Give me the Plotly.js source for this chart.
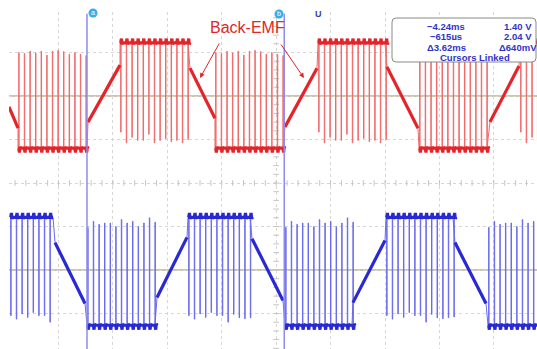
<!DOCTYPE html>
<html><head><meta charset="utf-8">
<script src="https://cdn.plot.ly/plotly-3.0.1.min.js"></script>
<style>html,body{margin:0;padding:0;background:#fff;overflow:hidden}#chart{width:537px;height:349px}</style>
</head><body><div id="chart"></div>
<script>
// Time in ms (1 ms / div), amplitude in divisions relative to each channel's ground marker
const redOffset = 2.0, blueOffset = -2.0;
const redHigh = 1.22, redLow = -1.20;
const blueHigh = 1.21, blueLow = -1.27;
const pwmPeriod = 0.103;

// Back-EMF ramps (floating phase)
const redRampStart = [-5.673, -4.221, -2.347, -0.601, 1.273, 3.166];
const redRampEnd   = [-5.507, -3.633, -1.888, -0.013, 1.843, 3.699];
const redRampFrom  = [-0.25, -0.60, 0.64, -0.71, 0.67, -0.60];
const redRampTo    = [-0.74, 0.71, -0.51, 0.64, -0.74, 0.69];
// PWM-driven intervals
const redPwmStart  = [-5.507, -3.633, -1.888, 0.006, 1.861, 3.717];
const redPwmEnd    = [-4.239, -2.383, -0.638, 1.237, 3.111, 4.050];
const redPwmState  = ['low', 'high', 'low', 'high', 'low', 'high'];
const redPwmPulses = [13, 13, 13, 13, 13, 4];
const redTipUp     = [1.00, 0.98, 1.03, 0.99, 1.03, 0.94, 1.03, 1.05, 1.02, 0.96, 1.00, 0.96, 0.93];
const redTipDown   = [-0.83, -1.08, -0.95, -1.02, -1.02, -0.88, -1.08, -1.02, -0.98, -1.05, -1.02, -1.08, -1.00];

const blueRampStart = [-4.827, -2.953, -1.207, 0.648, 2.523];
const blueRampEnd   = [-4.276, -2.402, -0.638, 1.237, 3.093];
const blueRampFrom  = [0.63, -0.63, 0.72, -0.75, 0.63];
const blueRampTo    = [-0.77, 0.75, -0.70, 0.68, -0.77];
const bluePwmStart  = [-5.654, -4.239, -2.383, -0.601, 1.255, 3.129];
const bluePwmEnd    = [-4.864, -2.990, -1.244, 0.630, 2.486, 4.050];
const bluePwmState  = ['high', 'low', 'high', 'low', 'high', 'low'];
const bluePwmPulses = [8, 13, 12, 13, 13, 9];
const blueTipUp     = [0.98, 1.12, 1.05, 1.08, 1.08, 1.00, 1.16, 1.08, 1.12, 1.00, 1.08, 1.20, 1.10];
const blueTipDown   = [-1.05, -1.13, -1.01, -1.09, -0.98, -1.05, -1.05, -1.20, -1.02, -1.10, -1.12, -1.10, -1.08];

// Cursors
const cursorA = -4.24, cursorB = -0.615;

function buildChannel(off, hi, lo, rS, rE, rF, rT, pS, pE, pState, pN, tipUp, tipDown) {
  const segs = [];
  rS.forEach((s, i) => segs.push({t: s, kind: 'ramp', i}));
  pS.forEach((s, i) => segs.push({t: s, kind: 'pwm', i}));
  segs.sort((a, b) => a.t - b.t);
  const thin = {x: [], y: []}, thick = {x: [], y: []};
  const w = 0.008;
  segs.forEach(sg => {
    const i = sg.i;
    if (sg.kind === 'ramp') {
      thin.x.push(rS[i], rE[i]); thin.y.push(rF[i] + off, rT[i] + off);
      thick.x.push(rS[i], rE[i], null); thick.y.push(rF[i] + off, rT[i] + off, null);
    } else {
      const high = pState[i] === 'high';
      const lvl = (high ? hi : lo) + off;
      const tips = high ? tipDown : tipUp;
      const sgn = high ? 1 : -1;
      thin.x.push(pS[i]); thin.y.push(lvl);
      thick.x.push(pS[i]); thick.y.push(lvl);
      for (let k = 0; k < pN[i]; k++) {
        const tp = pS[i] + 0.012 + k * pwmPeriod;
        if (tp > pE[i] + 0.02) break;
        const tip = tips[k % tips.length] + off;
        thin.x.push(tp, tp, tp + w, tp + w); thin.y.push(lvl, tip, tip, lvl);
        thick.x.push(tp, tp + w + 0.006, tp + w + 0.016, tp + 0.04);
        thick.y.push(lvl, lvl + 0.1 * sgn, lvl - 0.03 * sgn, lvl);
      }
      thin.x.push(pE[i]); thin.y.push(lvl);
      thick.x.push(pE[i], null); thick.y.push(lvl, null);
    }
  });
  return {thin, thick};
}

const red = buildChannel(redOffset, redHigh, redLow, redRampStart, redRampEnd, redRampFrom, redRampTo,
  redPwmStart, redPwmEnd, redPwmState, redPwmPulses, redTipUp, redTipDown);
const blue = buildChannel(blueOffset, blueHigh, blueLow, blueRampStart, blueRampEnd, blueRampFrom, blueRampTo,
  bluePwmStart, bluePwmEnd, bluePwmState, bluePwmPulses, blueTipUp, blueTipDown);

const X0 = -5.673, X1 = 4.030, Y0 = -3.816, Y1 = 3.931;
// pixel helpers for decorations
const px = x => (x - 317.7) / 54.42;
const py = y => (183 - y) / 43.5;

// center graticule ticks
const tickHX = [], tickHY = [], tickVX = [], tickVY = [];
for (let t = -0.763 - 5; t <= X1; t += 0.2) { tickHX.push(t); tickHY.push(0); }
for (let v = -4; v <= 4; v += 0.2) { tickVX.push(-0.763); tickVY.push(v); }

const traces = [
  {x: tickHX, y: tickHY, mode: 'markers', marker: {symbol: 'line-ns', size: 4, line: {color: '#c4c4c4', width: 1}}, hoverinfo: 'skip'},
  {x: tickVX, y: tickVY, mode: 'markers', marker: {symbol: 'line-ew', size: 4, line: {color: '#c4c4c4', width: 1}}, hoverinfo: 'skip'},
  {x: red.thin.x, y: red.thin.y, mode: 'lines', line: {color: '#f06a6a', width: 1, simplify: false}, hoverinfo: 'skip'},
  {x: red.thick.x, y: red.thick.y, mode: 'lines', line: {color: '#e3242b', width: 3.2, simplify: false}, hoverinfo: 'skip'},
  {x: blue.thin.x, y: blue.thin.y, mode: 'lines', line: {color: '#6a6aee', width: 1, simplify: false}, hoverinfo: 'skip'},
  {x: blue.thick.x, y: blue.thick.y, mode: 'lines', line: {color: '#2929d4', width: 3.2, simplify: false}, hoverinfo: 'skip'},
  {x: [px(93), px(279), px(409), px(409)], y: [py(13), py(14), py(26), py(46)], mode: 'markers+text',
   text: ['a', 'b', 'a', 'b'], textposition: 'middle center', cliponaxis: false,
   textfont: {color: '#ffffff', size: 7, family: 'Liberation Sans'},
   marker: {size: 9, color: '#38aee8'}, hoverinfo: 'skip'}
];

const rx = 4 / 54.42, ry = 4 / 43.5;
const bx0 = px(392), bx1 = px(536), by0 = py(62), by1 = py(18);
const boxPath = `M ${bx0 + rx} ${by1} L ${bx1 - rx} ${by1} Q ${bx1} ${by1} ${bx1} ${by1 - ry} L ${bx1} ${by0 + ry} Q ${bx1} ${by0} ${bx1 - rx} ${by0} L ${bx0 + rx} ${by0} Q ${bx0} ${by0} ${bx0} ${by0 + ry} L ${bx0} ${by1 - ry} Q ${bx0} ${by1} ${bx0 + rx} ${by1} Z`;

const shapes = [
  {type: 'line', xref: 'x', yref: 'y', x0: X0, x1: X1, y0: redOffset, y1: redOffset, line: {color: '#968e5e', width: 1}, layer: 'below'},
  {type: 'line', xref: 'x', yref: 'y', x0: X0, x1: X1, y0: blueOffset, y1: blueOffset, line: {color: '#968e5e', width: 1}, layer: 'below'},
  {type: 'line', xref: 'x', yref: 'paper', x0: cursorA, x1: cursorA, y0: 0, y1: 0.995, line: {color: '#8c8cf0', width: 1.5}, layer: 'above'},
  {type: 'line', xref: 'x', yref: 'paper', x0: cursorB, x1: cursorB, y0: 0, y1: 0.995, line: {color: '#8c8cf0', width: 1.5}, layer: 'above'},
  {type: 'path', xref: 'x', yref: 'y', path: boxPath, fillcolor: '#ffffff', line: {color: '#8a8a8a', width: 1}, layer: 'above'}
];

const bf = {family: 'Liberation Sans, Arial, sans-serif', size: 9.5, color: '#3333c6'};
function boxText(text, x, y, anchor) {
  return {x, y, xref: 'x', yref: 'y', text: '<b>' + text + '</b>', showarrow: false, xanchor: anchor || 'left', yanchor: 'middle',
          font: bf, borderpad: 0, height: 8, valign: 'middle'};
}
const annotations = [
  {x: px(247.5), y: py(27), xref: 'x', yref: 'y', text: 'Back-EMF', showarrow: false,
   font: {family: 'Liberation Sans, Arial, sans-serif', size: 16, color: '#e12626'}},
  {x: px(200), y: py(78), ax: 20, ay: -36, xref: 'x', yref: 'y', text: '', showarrow: true,
   arrowhead: 2, arrowsize: 1, arrowwidth: 1, arrowcolor: '#e12626', standoff: 0},
  {x: px(304), y: py(78), ax: -24, ay: -35, xref: 'x', yref: 'y', text: '', showarrow: true,
   arrowhead: 2, arrowsize: 1, arrowwidth: 1, arrowcolor: '#e12626', standoff: 0},
  {x: px(318), y: py(14), xref: 'x', yref: 'y', text: '<b>U</b>', showarrow: false,
   font: {family: 'Liberation Sans, Arial, sans-serif', size: 9, color: '#2a46a8'}},
  boxText('−4.24ms', px(426), py(26)),
  boxText('1.40 V', px(503), py(26)),
  boxText('−615µs', px(429), py(36)),
  boxText('2.04 V', px(503), py(36)),
  boxText('Δ3.62ms', px(426), py(46.5)),
  boxText('Δ640mV', px(498), py(46.5)),
  boxText('Cursors Linked', px(475.5), py(57), 'center')
];

const layout = {
  width: 537, height: 349,
  margin: {l: 9, r: 0, t: 12, b: 0, pad: 0},
  paper_bgcolor: '#ffffff', plot_bgcolor: '#ffffff',
  showlegend: false,
  xaxis: {range: [X0, X1], tick0: -0.763, dtick: 1, showgrid: true, gridcolor: '#d6d6d6', griddash: 'dot', gridwidth: 1,
          zeroline: false, showticklabels: false, ticks: '', showline: false, fixedrange: true},
  yaxis: {range: [Y0, Y1], tick0: 0, dtick: 1, showgrid: true, gridcolor: '#d6d6d6', griddash: 'dot', gridwidth: 1,
          zeroline: false, showticklabels: false, ticks: '', showline: false, fixedrange: true},
  shapes, annotations
};

Plotly.newPlot('chart', traces, layout, {staticPlot: true, displayModeBar: false});
</script></body></html>
